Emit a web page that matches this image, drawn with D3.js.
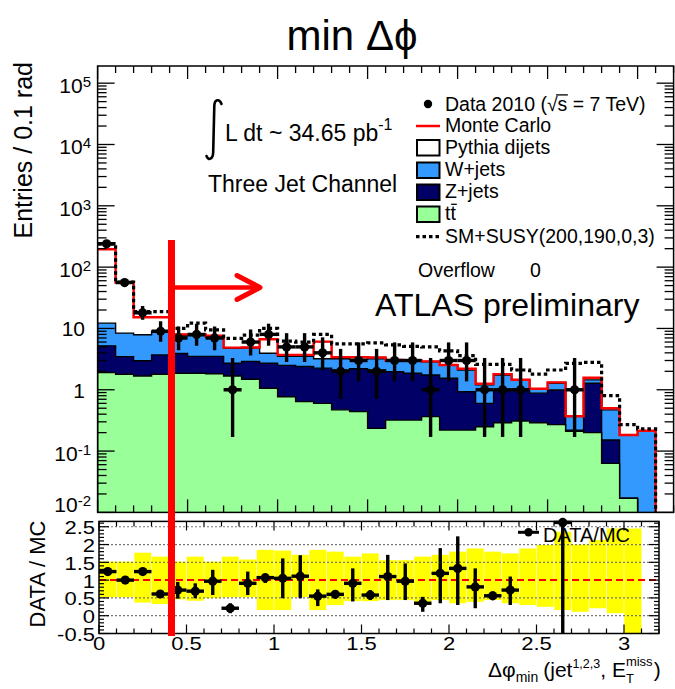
<!DOCTYPE html>
<html>
<head>
<meta charset="utf-8">
<script src="https://cdn.jsdelivr.net/npm/d3@7"></script>
<style>
  html, body { margin: 0; padding: 0; background: #ffffff; }
  svg { display: block; }
  text { font-family: "Liberation Sans", Arial, Helvetica, sans-serif; fill: #000; }
</style>
</head>
<body>
<svg id="chart" width="675" height="689"></svg>
<script>
// ---- binning: 32 bins of 0.1 rad in delta-phi_min ----
const binLow = [0.0,0.1,0.2,0.3,0.4,0.5,0.6,0.7,0.8,0.9,1.0,1.1,1.2,1.3,1.4,1.5,
                1.6,1.7,1.8,1.9,2.0,2.1,2.2,2.3,2.4,2.5,2.6,2.7,2.8,2.9,3.0,3.1];
const binWidth = 0.1;

// ---- stacked Monte Carlo contributions (entries per bin) ----
const ttbar  = [1.90,1.79,1.68,1.79,1.86,1.86,1.82,1.68,1.48,1.06,0.77,0.64,0.60,0.47,0.44,0.235,
                0.32,0.32,0.365,0.22,0.22,0.25,0.29,0.31,0.29,0.27,0.21,0.20,0.063,0.017,0.002,0];
const zjets  = [3.30,1.68,1.30,1.91,2.04,1.64,1.68,1.02,1.42,1.64,1.73,1.76,1.65,1.63,1.76,1.87,
                1.65,1.54,1.38,1.32,0.71,0.35,0.68,0.68,0.59,0.72,0.01,1.08,0.089,0,0,0];
const wjets  = [7.00,4.93,4.92,5.30,3.70,4.10,3.70,2.05,1.90,1.24,1.00,1.10,0.95,1.10,0.95,1.10,
                0.93,1.04,1.11,0.96,1.17,0.60,0.77,0.46,0.14,0.29,0.15,0.17,0.318,0.166,0.213,0];
const pythia = [184,47.6,7.30,6.20,0.40,0.40,0.40,0.11,0.10,2.73,0.20,0.20,2.90,0.20,0.25,0.15,
                0.16,0.10,0.05,0.04,0.10,0.05,0.06,0.01,0.02,0.04,0,0.12,0.03,0,0,0];

// ---- SM + SUSY(200,190,0,3) expectation ----
const smSusy = [240,57,18.8,18.8,10.0,12.2,9.5,6.9,7.8,10.0,6.2,6.0,8.0,5.6,5.6,5.8,
                5.4,5.1,5.0,4.3,3.6,2.6,2.6,2.1,1.8,2.1,2.7,2.8,0.8,0.27,0.23,0];

// ---- data 2010 counts and asymmetric errors ----
const dataCounts = [240,56,18,9,7,8,7,1,6,8,5,5,4,2,3,2,3,3,1,3,3,1,1,1,0,0,1,0,0,0,0,0];
const dataErrDown = [15.5,7.5,4.2,2.94,2.58,2.77,2.58,0.83,2.38,2.77,2.16,2.16,1.91,1.29,1.63,1.29,
                     1.63,1.63,0.83,1.63,1.63,0.83,0.83,0.83,0,0,0.83,0,0,0,0,0];
const dataErrUp   = [15.5,7.5,5.3,4.11,3.77,3.95,3.77,2.30,3.58,3.95,3.38,3.38,3.16,2.64,2.92,2.64,
                     2.92,2.92,2.30,2.92,2.92,2.30,2.30,2.30,0,0,2.30,0,0,0,0,0];

// ---- DATA / MC ratio with error extents ----
const ratio     = [1.24,1.00,1.24,0.61,0.72,0.69,0.97,0.21,0.91,1.07,1.05,1.11,0.55,0.60,0.91,0.58,
                   1.10,0.97,0.35,1.19,1.33,0.81,0.56,0.72,null,null,2.62,null,null,null,null,null];
const ratioLow  = [1.17,0.90,1.17,0.52,0.48,0.49,0.58,0.07,0.58,0.92,0.49,0.49,0.27,0.49,0.40,0.44,
                   0.44,0.44,0.11,0.35,0.30,0.21,0.44,0.30,null,null,-0.5,null,null,null,null,null];
const ratioHigh = [1.31,1.10,1.31,0.70,0.95,0.91,1.29,0.35,1.24,1.14,1.61,1.70,0.74,0.72,1.33,0.72,
                   1.71,1.47,0.53,1.90,2.23,1.33,0.68,1.10,null,null,2.65,null,null,null,null,null];

// ---- MC uncertainty band on the ratio ----
const bandLow  = [0.52,0.52,0.37,0.33,0.46,0.42,0.49,0.52,0.52,0.16,0.16,0.52,0.16,0.30,0.41,0.41,
                  0.44,0.44,0.30,0.44,0.35,0.39,0.44,0.35,0.30,0.25,0.16,0.11,0.21,0.07,-0.5,null];
const bandHigh = [1.52,1.52,1.77,1.66,1.52,1.66,1.52,1.66,1.58,1.85,1.83,1.71,1.85,1.80,1.66,1.75,
                  1.56,1.56,1.66,1.71,1.80,1.89,1.80,1.75,1.89,1.99,2.36,2.00,2.13,2.45,2.45,null];

// ---- axis tick labels ----
const logExponents = [-2,-1,0,1,2,3,4,5];
const xTickValues  = [0,0.5,1,1.5,2,2.5,3];
const xTickLabels  = ["0","0.5","1","1.5","2","2.5","3"];
const rTickValues  = [-0.5,0,0.5,1,1.5,2,2.5];
const rTickLabels  = ["-0.5","0","0.5","1","1.5","2","2.5"];
const rGridValues  = [0,0.5,1.5,2,2.5];

// ---- colours ----
const colW = "#3399ff", colZ = "#000066", colTT = "#99ff99", colMC = "#ff0000";

const svg = d3.select("#chart");

// ======================= main panel =======================
const P1 = { l: 97.6, r: 673.6, t: 66, b: 512.4 };
const x = d3.scaleLinear().domain([0, 3.2]).range([P1.l, P1.r]);
const y = d3.scaleLog().domain([0.01, Math.pow(10, 5.28)]).range([P1.b, P1.t]);

svg.append("clipPath").attr("id", "clipTop")
  .append("rect").attr("x", P1.l).attr("y", P1.t).attr("width", P1.r - P1.l).attr("height", P1.b - P1.t);

const gTop = svg.append("g").attr("clip-path", "url(#clipTop)");

const cum1 = ttbar.slice();
const cum2 = cum1.map((v, i) => v + zjets[i]);
const cum3 = cum2.map((v, i) => v + wjets[i]);
const cum4 = cum3.map((v, i) => v + pythia[i]);

function stepPoints(vals) {
  const pts = [];
  vals.forEach((v, i) => {
    const yy = y(Math.max(v, 1e-4));
    pts.push([x(binLow[i]), yy], [x(binLow[i] + binWidth), yy]);
  });
  return pts;
}
function stepArea(vals) {
  const pts = [[x(0), P1.b + 20]].concat(stepPoints(vals), [[x(3.2), P1.b + 20]]);
  return "M" + pts.map(p => p.join(",")).join("L") + "Z";
}
const lineGen = d3.line();

[[cum4, "#ffffff"], [cum3, colW], [cum2, colZ], [cum1, colTT]].forEach(([vals, fill]) => {
  gTop.append("path").attr("d", stepArea(vals))
    .attr("fill", fill).attr("stroke", "#000").attr("stroke-width", 1.4);
});

// MC total
gTop.append("path").attr("d", lineGen(stepPoints(cum4)))
  .attr("fill", "none").attr("stroke", colMC).attr("stroke-width", 2.4);

// SM + SUSY
gTop.append("path").attr("d", lineGen(stepPoints(smSusy)))
  .attr("fill", "none").attr("stroke", "#000").attr("stroke-width", 3.2)
  .attr("stroke-dasharray", "3.5,3");

// data points
const gData = svg.append("g").attr("clip-path", "url(#clipTop)");
dataCounts.forEach((n, i) => {
  if (n <= 0) return;
  const cx = x(binLow[i] + binWidth / 2), cy = y(n);
  gData.append("line").attr("x1", cx).attr("x2", cx)
    .attr("y1", y(n - dataErrDown[i])).attr("y2", y(n + dataErrUp[i]))
    .attr("stroke", "#000").attr("stroke-width", 3.4);
  gData.append("line").attr("x1", x(binLow[i])).attr("x2", x(binLow[i] + binWidth))
    .attr("y1", cy).attr("y2", cy).attr("stroke", "#000").attr("stroke-width", 3.4);
  gData.append("circle").attr("cx", cx).attr("cy", cy).attr("r", 4.6).attr("fill", "#000");
});

// frame and ticks of the main panel
const gAx = svg.append("g").attr("stroke", "#000").attr("fill", "none");
gAx.append("rect").attr("x", P1.l).attr("y", P1.t).attr("width", P1.r - P1.l).attr("height", P1.b - P1.t)
  .attr("stroke-width", 1.5);
for (let k = 0; k <= 32; k++) {
  const xv = x(k / 10), len = (k % 5 === 0) ? 13 : 7;
  gAx.append("line").attr("x1", xv).attr("x2", xv).attr("y1", P1.b).attr("y2", P1.b - len).attr("stroke-width", 1.3);
  gAx.append("line").attr("x1", xv).attr("x2", xv).attr("y1", P1.t).attr("y2", P1.t + len).attr("stroke-width", 1.3);
}
for (let e = -2; e <= 5; e++) {
  for (let m = 1; m <= 9; m++) {
    const v = m * Math.pow(10, e);
    if (v > y.domain()[1]) continue;
    const yv = y(v), len = (m === 1) ? 17 : 9;
    gAx.append("line").attr("x1", P1.l).attr("x2", P1.l + len).attr("y1", yv).attr("y2", yv).attr("stroke-width", 1.3);
    gAx.append("line").attr("x1", P1.r).attr("x2", P1.r - len).attr("y1", yv).attr("y2", yv).attr("stroke-width", 1.3);
  }
}
// log labels (the lowest one sits a little higher, clear of the ratio panel)
logExponents.forEach(e => {
  const yv = y(Math.pow(10, e));
  if (e === 0 || e === 1) {
    svg.append("text").attr("x", 85).attr("y", yv + 8).attr("text-anchor", "end")
      .attr("font-size", 21).text(e === 0 ? "1" : "10");
  } else {
    const t = svg.append("text").attr("x", 91).attr("y", yv + (e === -2 ? 0 : 10))
      .attr("text-anchor", "end").attr("font-size", 21);
    t.append("tspan").text("10");
    t.append("tspan").attr("font-size", 15).attr("dy", -6).text(String(e));
  }
});
svg.append("text").attr("transform", "translate(32,62) rotate(-90)").attr("text-anchor", "end")
  .attr("font-size", 25).text("Entries / 0.1 rad");

// luminosity and channel
svg.append("path").attr("d", "M221.5,104 C219.5,98.5 214.5,99 214.3,106 L213.2,152 C213,159.5 208.5,161 206.5,156")
  .attr("fill", "none").attr("stroke", "#000").attr("stroke-width", 2.6).attr("stroke-linecap", "round");
const lumi = svg.append("text").attr("x", 225).attr("y", 141).attr("font-size", 23);
lumi.append("tspan").text("L dt ~ 34.65 pb");
lumi.append("tspan").attr("font-size", 16).attr("dy", -11).text("-1");
svg.append("text").attr("x", 208).attr("y", 192.3).attr("font-size", 23).text("Three Jet Channel");

// legend
const legX = 416, legTX = 445, legFS = 19.5;
svg.append("circle").attr("cx", 428).attr("cy", 104).attr("r", 4.2).attr("fill", "#000");
const dataLbl = svg.append("text").attr("x", legTX).attr("y", 110.7).attr("font-size", legFS)
  .text("Data 2010 (\u221As = 7 TeV)");
try {
  const ext = dataLbl.node().getExtentOfChar(12);
  const extR = dataLbl.node().getExtentOfChar(11);
  svg.append("line").attr("x1", extR.x + extR.width - 1.5).attr("x2", ext.x + ext.width + 0.5)
    .attr("y1", extR.y + 2.2).attr("y2", extR.y + 2.2).attr("stroke", "#000").attr("stroke-width", 1.3);
} catch (err) {}
svg.append("line").attr("x1", legX).attr("x2", legX + 24).attr("y1", 126).attr("y2", 126)
  .attr("stroke", colMC).attr("stroke-width", 2.5);
svg.append("text").attr("x", legTX).attr("y", 132.3).attr("font-size", legFS).text("Monte Carlo");
const boxes = [["#ffffff", 140, "Pythia dijets"], [colW, 162.5, "W+jets"], [colZ, 184.5, "Z+jets"], [colTT, 206.5, "tt"]];
boxes.forEach(([c, by, lbl]) => {
  svg.append("rect").attr("x", legX + 1).attr("y", by).attr("width", 22.5).attr("height", 15.5)
    .attr("fill", c).attr("stroke", "#000").attr("stroke-width", 2);
  svg.append("text").attr("x", legTX).attr("y", by + 13.6).attr("font-size", legFS).text(lbl);
});
// bar over the second t of t-tbar
svg.append("line").attr("x1", legTX + 6.2).attr("x2", legTX + 11.8).attr("y1", 204.3).attr("y2", 204.3)
  .attr("stroke", "#000").attr("stroke-width", 1.3);
svg.append("line").attr("x1", legX).attr("x2", legX + 24).attr("y1", 236.7).attr("y2", 236.7)
  .attr("stroke", "#000").attr("stroke-width", 3.2).attr("stroke-dasharray", "3.5,3");
svg.append("text").attr("x", legTX).attr("y", 243.3).attr("font-size", legFS).text("SM+SUSY(200,190,0,3)");
svg.append("text").attr("x", 418).attr("y", 276.7).attr("font-size", legFS).text("Overflow");
svg.append("text").attr("x", 530).attr("y", 276.7).attr("font-size", legFS).text("0");

// ======================= ratio panel =======================
const P2 = { l: 99, r: 659, t: 521.4, b: 633.5 };
const xR = d3.scaleLinear().domain([0, 3.2]).range([P2.l, P2.r]);
const yR = d3.scaleLinear().domain([-0.5, 2.65]).range([P2.b, P2.t]);

svg.append("clipPath").attr("id", "clipRatio")
  .append("rect").attr("x", P2.l).attr("y", P2.t).attr("width", P2.r - P2.l).attr("height", P2.b - P2.t);
const gR = svg.append("g").attr("clip-path", "url(#clipRatio)");

bandLow.forEach((lo, i) => {
  if (lo === null) return;
  gR.append("rect").attr("x", xR(binLow[i])).attr("width", xR(binLow[i] + binWidth) - xR(binLow[i]))
    .attr("y", yR(bandHigh[i])).attr("height", yR(lo) - yR(bandHigh[i]))
    .attr("fill", "#ffff00");
});
bandLow.forEach((lo, i) => {
  if (lo === null || i === 0) return;
  const xv = xR(binLow[i]);
  const top = Math.min(yR(bandHigh[i]), yR(bandHigh[i - 1] ?? bandHigh[i]));
  const bot = Math.max(yR(lo), yR(bandLow[i - 1] ?? lo));
  gR.append("line").attr("x1", xv).attr("x2", xv).attr("y1", top).attr("y2", bot)
    .attr("stroke", "#ffffff").attr("stroke-width", 0.8).attr("opacity", 0.7);
});
rGridValues.forEach(v => {
  gR.append("line").attr("x1", P2.l).attr("x2", P2.r).attr("y1", yR(v)).attr("y2", yR(v))
    .attr("stroke", "#777").attr("stroke-width", 1.2).attr("stroke-dasharray", "2,2");
});
gR.append("line").attr("x1", xR(0)).attr("x2", xR(3.2)).attr("y1", yR(1)).attr("y2", yR(1))
  .attr("stroke", colMC).attr("stroke-width", 2).attr("stroke-dasharray", "7,4");

ratio.forEach((r, i) => {
  if (r === null) return;
  const cx = xR(binLow[i] + binWidth / 2), cy = yR(r);
  svg.append("line").attr("x1", cx).attr("x2", cx).attr("y1", yR(ratioLow[i])).attr("y2", yR(ratioHigh[i]))
    .attr("stroke", "#000").attr("stroke-width", 3.4);
  svg.append("line").attr("x1", xR(binLow[i])).attr("x2", xR(binLow[i] + binWidth)).attr("y1", cy).attr("y2", cy)
    .attr("stroke", "#000").attr("stroke-width", 3.4);
  svg.append("circle").attr("cx", cx).attr("cy", cy).attr("r", 4.6).attr("fill", "#000");
});

// ratio legend
svg.append("line").attr("x1", 518).attr("x2", 539).attr("y1", 532.3).attr("y2", 532.3)
  .attr("stroke", "#000").attr("stroke-width", 3);
svg.append("circle").attr("cx", 528.5).attr("cy", 532.3).attr("r", 4.2).attr("fill", "#000");
svg.append("text").attr("x", 543).attr("y", 541.7).attr("font-size", 20).text("DATA/MC");

// frame and ticks of the ratio panel
const gAx2 = svg.append("g").attr("stroke", "#000").attr("fill", "none");
gAx2.append("rect").attr("x", P2.l).attr("y", P2.t).attr("width", P2.r - P2.l).attr("height", P2.b - P2.t)
  .attr("stroke-width", 1.5);
for (let k = 0; k <= 32; k++) {
  const xv = xR(k / 10), len = (k % 5 === 0) ? 9 : 5;
  gAx2.append("line").attr("x1", xv).attr("x2", xv).attr("y1", P2.b).attr("y2", P2.b - len).attr("stroke-width", 1.2);
  gAx2.append("line").attr("x1", xv).attr("x2", xv).attr("y1", P2.t).attr("y2", P2.t + len).attr("stroke-width", 1.2);
}
for (let k = -5; k <= 26; k++) {
  const yv = yR(k / 10), len = (k % 5 === 0) ? 10 : 5;
  gAx2.append("line").attr("x1", P2.l).attr("x2", P2.l + len).attr("y1", yv).attr("y2", yv).attr("stroke-width", 1.2);
  gAx2.append("line").attr("x1", P2.r).attr("x2", P2.r - len).attr("y1", yv).attr("y2", yv).attr("stroke-width", 1.2);
}
rTickValues.forEach((v, i) => {
  svg.append("text").attr("transform", `translate(95,${yR(v) + 7.5}) scale(1,0.8)`)
    .attr("text-anchor", "end").attr("font-size", 22).text(rTickLabels[i]);
});
xTickValues.forEach((v, i) => {
  svg.append("text").attr("transform", `translate(${xR(v)},650) scale(1,0.8)`)
    .attr("text-anchor", "middle").attr("font-size", 22).text(xTickLabels[i]);
});
svg.append("text").attr("transform", "translate(45,574) rotate(-90)").attr("text-anchor", "middle")
  .attr("font-size", 22).text("DATA / MC");

// x-axis title: delta-phi_min (jet^{1,2,3}, E_T^{miss})
(function () {
  let cx = 488;
  const base = 677;
  function piece(str, fs, dy) {
    const t = svg.append("text").attr("x", cx).attr("y", base + dy).attr("font-size", fs)
      .style("white-space", "pre").text(str);
    return t.node().getComputedTextLength();
  }
  cx += piece("\u0394\u03c6", 21, 0);
  cx += piece("min", 14, 5);
  cx += 5;
  cx += piece("(jet", 21, 0);
  cx += piece("1,2,3", 12.5, -9);
  cx += piece(", E", 21, 0);
  const w1 = piece("miss", 13, -11);
  const w2 = piece("T", 13, 6);
  cx += Math.max(w1, w2) + 1;
  piece(")", 21, 0);
})();

// ======================= annotations =======================
svg.append("text").attr("x", 352).attr("y", 50).attr("text-anchor", "middle")
  .attr("font-family", "Lato, 'Open Sans', sans-serif").attr("font-size", 42).text("min \u0394\u03d5");
svg.append("text").attr("x", 375).attr("y", 316).attr("font-family", "Lato, 'Open Sans', sans-serif")
  .attr("font-size", 32).text("ATLAS preliminary");

svg.append("line").attr("x1", 171.5).attr("x2", 171.5).attr("y1", 240).attr("y2", 636)
  .attr("stroke", "#ff0000").attr("stroke-width", 7);
svg.append("line").attr("x1", 175).attr("x2", 258).attr("y1", 287.5).attr("y2", 287.5)
  .attr("stroke", "#ff0000").attr("stroke-width", 4.5);
svg.append("path").attr("d", "M237,275.5 L260,287.5 L237,299.5")
  .attr("fill", "none").attr("stroke", "#ff0000").attr("stroke-width", 5)
  .attr("stroke-linecap", "round").attr("stroke-linejoin", "round");
</script>
</body>
</html>
